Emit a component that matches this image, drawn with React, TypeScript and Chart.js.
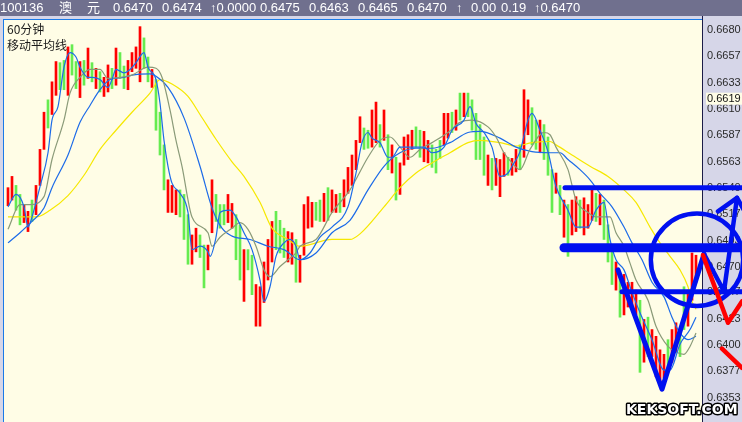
import React, { useEffect, useRef } from "react";
import { Chart, registerables } from "chart.js";

Chart.register(...registerables);

// ---- candles (prices in pips, i.e. price x 10000), one column per bar index ----
const highs = [
  6540, 6550, 6542, 6534, 6525, 6519, 6529, 6542, 6574, 6607,
  6618, 6634, 6652, 6651, 6653, 6665, 6667, 6652, 6652, 6653,
  6664, 6651, 6646, 6643, 6638, 6649, 6646, 6664, 6660, 6648,
  6653, 6660, 6665, 6683, 6673, 6656, 6645, 6636, 6607, 6578,
  6547, 6542, 6538, 6538, 6534, 6516, 6498, 6504, 6498, 6489,
  6489, 6547, 6534, 6525, 6525, 6534, 6526, 6516, 6507, 6485,
  6485, 6480, 6454, 6452, 6474, 6494, 6510, 6519, 6511, 6504,
  6501, 6500, 6494, 6480, 6525, 6532, 6527, 6527, 6529, 6535,
  6540, 6538, 6534, 6535, 6547, 6558, 6569, 6582, 6603, 6593,
  6591, 6609, 6616, 6596, 6609, 6587, 6578, 6567, 6562, 6585,
  6587, 6591, 6594, 6591, 6590, 6582, 6578, 6574, 6582, 6606,
  6606, 6607, 6609, 6624, 6624, 6624, 6618, 6606, 6596, 6585,
  6569, 6566, 6566, 6565, 6571, 6567, 6566, 6574, 6578, 6627,
  6618, 6611, 6600, 6600, 6596, 6585, 6556, 6553, 6542, 6529,
  6525, 6529, 6532, 6529, 6531, 6525, 6538, 6535, 6534, 6529,
  6507, 6489, 6474, 6463, 6463, 6456, 6456, 6449, 6440, 6423,
  6425, 6414, 6408, 6396, 6392, 6405, 6414, 6420, 6414, 6452,
  6449, 6482, 6480,
];
const lows = [
  6524, 6529, 6520, 6507, 6509, 6501, 6510, 6516, 6542, 6574,
  6593, 6605, 6622, 6627, 6627, 6622, 6640, 6628, 6620, 6631,
  6637, 6634, 6628, 6625, 6621, 6625, 6628, 6631, 6637, 6628,
  6627, 6643, 6646, 6634, 6646, 6634, 6629, 6591, 6569, 6538,
  6518, 6518, 6516, 6514, 6494, 6472, 6472, 6483, 6478, 6451,
  6467, 6500, 6510, 6504, 6507, 6509, 6504, 6476, 6458, 6439,
  6467, 6445, 6417, 6417, 6438, 6458, 6474, 6485, 6482, 6478,
  6474, 6472, 6456, 6456, 6480, 6504, 6505, 6511, 6510, 6510,
  6511, 6518, 6518, 6518, 6523, 6535, 6542, 6556, 6580, 6574,
  6575, 6576, 6580, 6576, 6582, 6556, 6553, 6529, 6534, 6560,
  6565, 6574, 6576, 6567, 6563, 6562, 6558, 6553, 6566, 6578,
  6584, 6589, 6591, 6600, 6603, 6603, 6591, 6565, 6565, 6551,
  6542, 6538, 6542, 6532, 6550, 6551, 6551, 6554, 6556, 6567,
  6587, 6578, 6574, 6571, 6565, 6551, 6518, 6535, 6516, 6496,
  6479, 6498, 6501, 6504, 6498, 6504, 6511, 6510, 6507, 6494,
  6474, 6454, 6449, 6425, 6427, 6434, 6432, 6427, 6376, 6385,
  6390, 6390, 6372, 6367, 6371, 6376, 6385, 6394, 6390, 6414,
  6417, 6440, 6456,
];
// R = rising candle (red), G = falling candle (green)
const candleDirections =
  "RRGGRRGRRR GRRGGRGGRG RGRGRRGRGG RRRRGGRGGG RRRGGGRRGG " +
  "RRGGGRRGGR GGRRRRRGGG RRGRRRRGGR GRRGRRRRRG GRRGRGRGRR " +
  "RRGGRRGGGR RGRGRGGGGG RGRRRGRRGR RGGRGGGRGR GRRGRRRGRG " +
  "GGRGRRRRGR GRRRRGRRGG RRR";

// ---- moving averages: [bar index, pips] ----
const maFast = [
  [0, 6523], [2, 6534], [4, 6523], [5, 6505], [6, 6514], [8, 6541], [10, 6571], [11, 6600], [12.5, 6612],
  [14, 6647], [15.5, 6660], [17, 6656], [18, 6647], [20, 6638], [21, 6638], [23, 6636], [25, 6629], [26, 6636],
  [27, 6645], [29, 6642], [30.5, 6645], [32, 6651], [34, 6660], [35, 6647], [37, 6636], [38, 6615], [39, 6582],
  [40, 6559], [41, 6544], [43, 6535], [45, 6518], [46, 6485], [48, 6488], [50, 6483], [50.5, 6479], [52, 6496],
  [53, 6518], [55.5, 6520], [57, 6514], [59, 6500], [61, 6485], [63, 6458], [64, 6439], [65.5, 6452], [67, 6479],
  [69, 6491], [70.5, 6494], [72, 6488], [73, 6476], [75.5, 6482], [78, 6496], [81, 6505], [85, 6523], [87, 6553],
  [88.5, 6580], [90, 6589], [91, 6584], [93, 6580], [95, 6567], [96, 6567], [98, 6576], [100.5, 6576], [104, 6576],
  [106, 6571], [109, 6576], [111, 6591], [114, 6600], [115.5, 6612], [117, 6597], [119, 6589], [121, 6576],
  [123, 6550], [125, 6553], [126, 6559], [128, 6572], [130, 6600], [131, 6606], [133, 6591], [135, 6572],
  [137, 6541], [140, 6520], [142, 6505], [145, 6505], [147, 6520], [149, 6527], [150.5, 6494], [152, 6476],
  [154, 6467], [156, 6447], [158, 6429], [161, 6405], [164, 6378], [165.5, 6378], [168, 6401], [170.5, 6414],
  [172, 6425],
];
const maMid = [
  [0, 6503], [3, 6525], [5.5, 6525], [9, 6532], [11, 6565], [14, 6600], [15.5, 6624], [18, 6638], [20.5, 6645],
  [23, 6645], [25, 6637], [28, 6638], [31, 6640], [35, 6647], [37, 6646], [38.5, 6638], [40.5, 6609], [42, 6582],
  [43.5, 6559], [46, 6514], [50, 6500], [51, 6488], [53, 6496], [56, 6504], [58, 6509], [60, 6503], [62, 6488],
  [64, 6467], [65.5, 6461], [68, 6470], [70, 6476], [72, 6482], [73, 6488], [77, 6494], [81, 6518], [85.5, 6538],
  [90, 6567], [93, 6582], [95.5, 6585], [98, 6576], [100.5, 6567], [103, 6574], [106, 6580], [110, 6589],
  [113, 6598], [116, 6600], [120, 6594], [122, 6585], [124, 6571], [126, 6562], [128, 6556], [130.5, 6574],
  [134, 6589], [135.5, 6587], [137, 6576], [140, 6556], [142, 6529], [145, 6518], [147, 6514], [150.5, 6514],
  [152, 6500], [154, 6488], [155.5, 6473], [157, 6458], [160, 6440], [162, 6417], [165, 6399], [167, 6394],
  [169, 6392], [170.5, 6399], [172, 6411],
];
const maSlow = [
  [0, 6491], [3, 6500], [6, 6510], [9, 6522], [11, 6540], [15, 6569], [18, 6598], [20.5, 6613], [23, 6627],
  [25.5, 6636], [29, 6638], [31, 6640], [35.5, 6641], [37, 6639], [40, 6629], [44, 6602], [48, 6559], [51, 6522],
  [53.5, 6504], [56, 6497], [60.5, 6494], [65, 6488], [69, 6485], [73, 6476], [77, 6482], [81, 6500], [85.5, 6511],
  [90, 6538], [94, 6559], [98, 6571], [102, 6575], [106, 6575], [110.5, 6580], [115, 6589], [118, 6590],
  [123, 6584], [127, 6576], [131, 6572], [135.5, 6571], [138, 6571], [140, 6565], [143, 6556], [145.5, 6547],
  [148, 6535], [151, 6523], [154, 6505], [156, 6491], [158.5, 6476], [161, 6456], [164, 6443], [166, 6425],
  [168, 6411], [170, 6405], [172, 6408],
];
const maLong = [
  [0, 6514], [7, 6514], [10.5, 6520], [15, 6533], [19, 6551], [23, 6574], [27, 6591], [31, 6607], [35.5, 6624],
  [38, 6636], [41, 6632], [45, 6621], [48, 6605], [52, 6583], [56, 6563], [59, 6550], [63, 6527], [66, 6504],
  [70, 6494], [73, 6488], [81, 6494], [85.5, 6494], [88, 6499], [94, 6523], [98, 6540], [102, 6553], [106, 6562],
  [110.5, 6571], [115, 6580], [118, 6582], [123, 6580], [127, 6577], [131, 6580], [135.5, 6581], [137, 6578],
  [141, 6569], [145.5, 6559], [150, 6550], [154, 6538], [157, 6527], [160.5, 6505], [163, 6491], [165.5, 6479],
  [168, 6467], [170, 6452], [171, 6439], [172, 6432],
];

// ---- axis ----
const yTickLabels = [
  0.668, 0.6657, 0.6633, 0.661, 0.6587, 0.6563, 0.654, 0.6517, 0.6493, 0.647, 0.6447, 0.6423, 0.64, 0.6377, 0.6353,
];
const yMax = 0.66889;
const yMin = 0.63319;
const xMin = -1;
const xMax = 173.5;
const markerPrice = 0.6619;

// ---- texts ----
const headerItems = ["100136", "澳", "元", "0.6470", "0.6474", "↑0.0000", "0.6475", "0.6463", "0.6465", "0.6470", "↑", "0.00", "0.19", "↑0.6470"];
const periodLabel = "60分钟";
const indicatorLabel = "移动平均线";
const watermark = "KEKSOFT.COM";

// ---- hand-drawn annotations, in [bar index, pips] ----
const levelPrices = [6540, 6486.6, 6447.6];
const levelStarts = [139.25, 139, 153.5];
const levelEnd = 183.5;
const vPattern = [[152.5, 6467], [163.5, 6361], [174, 6481]];
const blueLeg = [[174, 6481], [179, 6448], [182.25, 6531]];
const arrowHead = [[177.5, 6519], [182.25, 6531], [184, 6520]];
const redZig = [[173.75, 6480], [180, 6420], [183.5, 6439]];
const redLeg = [[178.5, 6397], [183.5, 6380]];
const circleCenter = [172.25, 6476];
const circleRadiusPips = 41;

const RED = "#ff0000";
const GREEN = "#66ec50";
const pipsToPrice = (v: number) => v / 10000;

const headerX = [0, 59, 87, 113, 162, 210, 260, 309, 358, 407, 456, 471, 501, 534];

const framePlugin = {
  id: "frame",
  beforeDraw(chart: any) {
    const { ctx, chartArea: a, width, height } = chart;
    ctx.save();
    ctx.fillStyle = "#fffde6";
    ctx.fillRect(0, 0, width, height);
    ctx.fillStyle = "#d6d6e8";
    ctx.fillRect(0, 16, width, a.top - 16);
    ctx.fillRect(0, 16, a.left - 1, height - 16);
    ctx.fillRect(a.right, 16, width - a.right, height - 16);
    ctx.fillStyle = "#70708e";
    ctx.fillRect(0, 0, width, 16);
    ctx.fillStyle = "#1a7ae8";
    ctx.fillRect(a.left - 1, a.top - 1, a.right - a.left + 1, 1);
    ctx.fillRect(a.left - 1, a.top - 1, 1, height - a.top + 1);
    ctx.fillStyle = "#1c1c48";
    ctx.fillRect(a.right, 16, 1, height - 16);
    ctx.restore();
  },
  afterDraw(chart: any) {
    const { ctx, chartArea: a, scales } = chart;
    const xs = scales.x;
    const ys = scales.y;
    const X = (i: number) => xs.getPixelForValue(i);
    const Y = (p: number) => ys.getPixelForValue(pipsToPrice(p));
    ctx.save();

    // header texts
    ctx.font = "13px 'Liberation Sans', 'Noto Sans CJK SC', sans-serif";
    ctx.fillStyle = "#ffffff";
    ctx.textBaseline = "middle";
    ctx.textAlign = "left";
    headerItems.forEach((t, k) => ctx.fillText(t, headerX[k], 8.5));

    // title texts
    ctx.font = "12px 'Noto Sans CJK SC', sans-serif";
    ctx.fillStyle = "#1a1a1a";
    ctx.fillText(periodLabel, 7, 29.5);
    ctx.fillText(indicatorLabel, 7, 45);

    // current price marker on the axis
    const ym = ys.getPixelForValue(markerPrice);
    ctx.font = "11px 'Liberation Sans', Arial, sans-serif";
    const mw = ctx.measureText(markerPrice.toFixed(4)).width;
    ctx.fillStyle = "#fffde6";
    ctx.fillRect(a.right + 4, ym - 6, mw + 3, 12);
    ctx.fillStyle = "#111111";
    ctx.fillText(markerPrice.toFixed(4), a.right + 5, ym);

    // annotations
    ctx.lineCap = "round";
    ctx.lineJoin = "round";
    const stroke = (pts: number[][], color: string, w: number) => {
      ctx.beginPath();
      pts.forEach(([i, p], k) => (k ? ctx.lineTo(X(i), Y(p)) : ctx.moveTo(X(i), Y(p))));
      ctx.strokeStyle = color;
      ctx.lineWidth = w;
      ctx.stroke();
    };
    const levelWidths = [5, 9, 5];
    levelPrices.forEach((p, k) => stroke([[levelStarts[k], p], [levelEnd, p]], "#0010f0", levelWidths[k]));
    const cx = X(circleCenter[0]);
    const cy = Y(circleCenter[1]);
    const r = Math.abs(Y(circleCenter[1] + circleRadiusPips) - cy);
    ctx.beginPath();
    ctx.arc(cx, cy, r, 0, Math.PI * 2);
    ctx.strokeStyle = "#0010f0";
    ctx.lineWidth = 4.5;
    ctx.stroke();
    stroke(vPattern, "#0010f0", 5);
    stroke(blueLeg, "#0010f0", 4.5);
    stroke(arrowHead, "#0010f0", 4.5);
    stroke(redZig, RED, 4.5);
    stroke(redLeg, RED, 4.5);

    // watermark
    ctx.font = "bold 14px 'DejaVu Sans', sans-serif";
    ctx.textBaseline = "alphabetic";
    ctx.lineWidth = 3;
    ctx.strokeStyle = "#000000";
    ctx.strokeText(watermark, 626, 414);
    ctx.fillStyle = "#ffffff";
    ctx.fillText(watermark, 626, 414);
    ctx.restore();
  },
};

export default function App() {
  const ref = useRef<HTMLCanvasElement>(null);
  useEffect(() => {
    const canvas = ref.current;
    if (!canvas) return;
    const dirs = candleDirections.replace(/\s+/g, "").split("");
    const bars = highs.map((h, i) => ({ x: i, y: [pipsToPrice(lows[i]), pipsToPrice(h)] }));
    const barColors = dirs.map((d) => (d === "R" ? RED : GREEN));
    const toPts = (arr: number[][]) => arr.map(([i, v]) => ({ x: i, y: pipsToPrice(v) }));
    const lineDs = (data: number[][], color: string, order: number) => ({
      type: "line" as const,
      data: toPts(data),
      borderColor: color,
      borderWidth: 1.2,
      pointRadius: 0,
      cubicInterpolationMode: "monotone" as const,
      fill: false,
      order,
    });
    const chart = new Chart(canvas, {
      type: "bar",
      data: {
        datasets: [
          lineDs(maLong, "#f6e800", 4) as any,
          lineDs(maSlow, "#1c6be8", 3) as any,
          lineDs(maMid, "#8a9a78", 2) as any,
          lineDs(maFast, "#1c6be8", 1) as any,
          {
            type: "bar",
            data: bars as any,
            backgroundColor: barColors,
            barThickness: 2,
            borderWidth: 0,
            order: 10,
          },
        ],
      },
      options: {
        responsive: false,
        animation: false,
        devicePixelRatio: 1,
        events: [],
        layout: { padding: { left: 4, top: 20, right: 0, bottom: 0 } },
        plugins: { legend: { display: false }, tooltip: { enabled: false } },
        scales: {
          x: { type: "linear", display: false, min: xMin, max: xMax, offset: false },
          y: {
            position: "right",
            min: yMin,
            max: yMax,
            grid: { display: false, drawTicks: false },
            border: { display: false },
            afterBuildTicks: (s: any) => {
              s.ticks = yTickLabels.map((v) => ({ value: v }));
            },
            afterFit: (s: any) => {
              s.width = 40;
              s.paddingTop = 0;
              s.paddingBottom = 0;
            },
            ticks: {
              padding: 5,
              autoSkip: false,
              color: "#2a2a2a",
              font: { family: "'Liberation Sans', Arial, sans-serif", size: 11 },
              callback: (v: any) => Number(v).toFixed(4),
            },
          },
        },
      },
      plugins: [framePlugin],
    });
    return () => chart.destroy();
  }, []);
  return (
    <div style={{ position: "absolute", left: 0, top: 0, width: 742, height: 422 }}>
      <canvas ref={ref} width={742} height={422} style={{ display: "block", width: 742, height: 422 }} />
    </div>
  );
}
